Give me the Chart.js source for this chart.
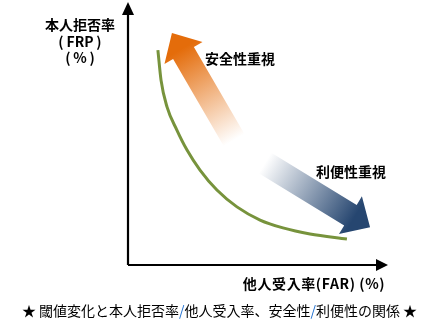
<!DOCTYPE html>
<html>
<head>
<meta charset="utf-8">
<script src="https://cdn.jsdelivr.net/npm/chart.js@4"></script>
<style>
  html, body { margin: 0; padding: 0; background: #fff; }
  #wrap { width: 439px; height: 330px; }
</style>
</head>
<body>
<div id="wrap"><canvas id="c" width="439" height="330"></canvas></div>
<script>
/* ––––– data (axis units 0–100) ––––– */
const curveX = [11.5, 12.7, 15.0, 18.8, 22.7, 27.7, 34.2, 41.9, 50.8, 59.6, 70.0, 84.2];
const curveY = [81.7, 70.3, 60.1, 51.3, 43.7, 36.1, 28.5, 22.1, 17.1, 14.1, 11.8, 9.9];

const arrowNames = ['安全性重視', '利便性重視'];
const arrowFromX = [40.8, 52.7];
const arrowFromY = [47.5, 38.8];
const arrowToX   = [16.9, 93.1];
const arrowToY   = [88.2, 14.4];
const arrowColours = ['#e46c0a', '#264670'];

const yTitle = ['本人拒否率', '(\u2009FRP\u2009)', '(\u2009%\u2009)'];
const xTitle = '他人受入率(FAR) (%)';
const captionParts = ['★ 閾値変化と本人拒否率', '/', '他人受入率、安全性', '/', '利便性の関係 ★'];

const JP = '"Noto Sans CJK JP", "Noto Sans", sans-serif';

/* ––––– helpers ––––– */
function fatArrow(ctx, x0, y0, x1, y1, colour){
  const dx = x1 - x0, dy = y1 - y0, len = Math.hypot(dx, dy);
  const ux = dx/len, uy = dy/len, nx = -uy, ny = ux;
  const sw = 12, hw = 22, hl = 23;           // half shaft, half head, head length
  const bx = x1 - ux*hl, by = y1 - uy*hl;
  const g = ctx.createLinearGradient(x0, y0, x1, y1);
  g.addColorStop(0, 'rgba(255,255,255,1)');
  g.addColorStop(0.85, colour);
  g.addColorStop(1, colour);
  ctx.beginPath();
  ctx.moveTo(x0 + nx*sw, y0 + ny*sw);
  ctx.lineTo(bx + nx*sw, by + ny*sw);
  ctx.lineTo(bx + nx*hw, by + ny*hw);
  ctx.lineTo(x1, y1);
  ctx.lineTo(bx - nx*hw, by - ny*hw);
  ctx.lineTo(bx - nx*sw, by - ny*sw);
  ctx.lineTo(x0 - nx*sw, y0 - ny*sw);
  ctx.closePath();
  ctx.fillStyle = g;
  ctx.fill();
}

/* ––––– plugin: axes with arrow tips, fat arrows, labels ––––– */
const decor = {
  id: 'decor',
  beforeDatasetsDraw(chart){
    const {ctx, chartArea:a, scales:{x, y}} = chart;
    ctx.save();
    // axes
    ctx.strokeStyle = '#000'; ctx.fillStyle = '#000'; ctx.lineWidth = 2.2;
    ctx.beginPath();
    ctx.moveTo(a.left, a.bottom); ctx.lineTo(a.left, a.top + 10);
    ctx.moveTo(a.left, a.bottom); ctx.lineTo(a.right - 10, a.bottom);
    ctx.stroke();
    ctx.beginPath();
    ctx.moveTo(a.left, a.top); ctx.lineTo(a.left - 6, a.top + 13); ctx.lineTo(a.left + 6, a.top + 13);
    ctx.closePath(); ctx.fill();
    ctx.beginPath();
    ctx.moveTo(a.right, a.bottom); ctx.lineTo(a.right - 12, a.bottom - 6); ctx.lineTo(a.right - 12, a.bottom + 6);
    ctx.closePath(); ctx.fill();

    // fat arrows
    arrowNames.forEach((n, i) => fatArrow(ctx,
      x.getPixelForValue(arrowFromX[i]), y.getPixelForValue(arrowFromY[i]),
      x.getPixelForValue(arrowToX[i]),   y.getPixelForValue(arrowToY[i]),
      arrowColours[i]));
    ctx.restore();
  },
  afterDraw(chart){
    const {ctx} = chart;
    ctx.save();
    ctx.fillStyle = '#000';
    ctx.textAlign = 'center'; ctx.textBaseline = 'middle';
    ctx.font = 'bold 14px ' + JP;
    yTitle.forEach((t, i) => ctx.fillText(t, 80, 25 + i*16.5));
    ctx.fillText(arrowNames[0], 240, 59);
    ctx.fillText(arrowNames[1], 351, 172);
    ctx.letterSpacing = '0.6px';
    ctx.fillText(xTitle, 314, 284);
    ctx.letterSpacing = '0px';

    // caption with blue slashes
    ctx.font = '14px ' + JP;
    const widths = captionParts.map(p => ctx.measureText(p).width);
    let cx = 439/2 - widths.reduce((s, w) => s + w, 0)/2;
    ctx.textAlign = 'left';
    captionParts.forEach((p, i) => {
      ctx.fillStyle = p === '/' ? '#1f6fd0' : '#000';
      ctx.fillText(p, cx, 311);
      cx += widths[i];
    });
    ctx.restore();
  }
};

/* ––––– chart ––––– */
new Chart(document.getElementById('c'), {
  type: 'scatter',
  data: {
    datasets: [{
      data: curveX.map((v, i) => ({x: v, y: curveY[i]})),
      showLine: true,
      borderColor: '#77933c',
      borderWidth: 3,
      pointRadius: 0,
      cubicInterpolationMode: 'monotone',
      fill: false
    }]
  },
  options: {
    responsive: false,
    animation: false,
    layout: { padding: { left: 128, top: 2, right: 51, bottom: 65 } },
    plugins: { legend: { display: false }, tooltip: { enabled: false } },
    scales: {
      x: { display: false, min: 0, max: 100 },
      y: { display: false, min: 0, max: 100 }
    }
  },
  plugins: [decor]
});
</script>
</body>
</html>
